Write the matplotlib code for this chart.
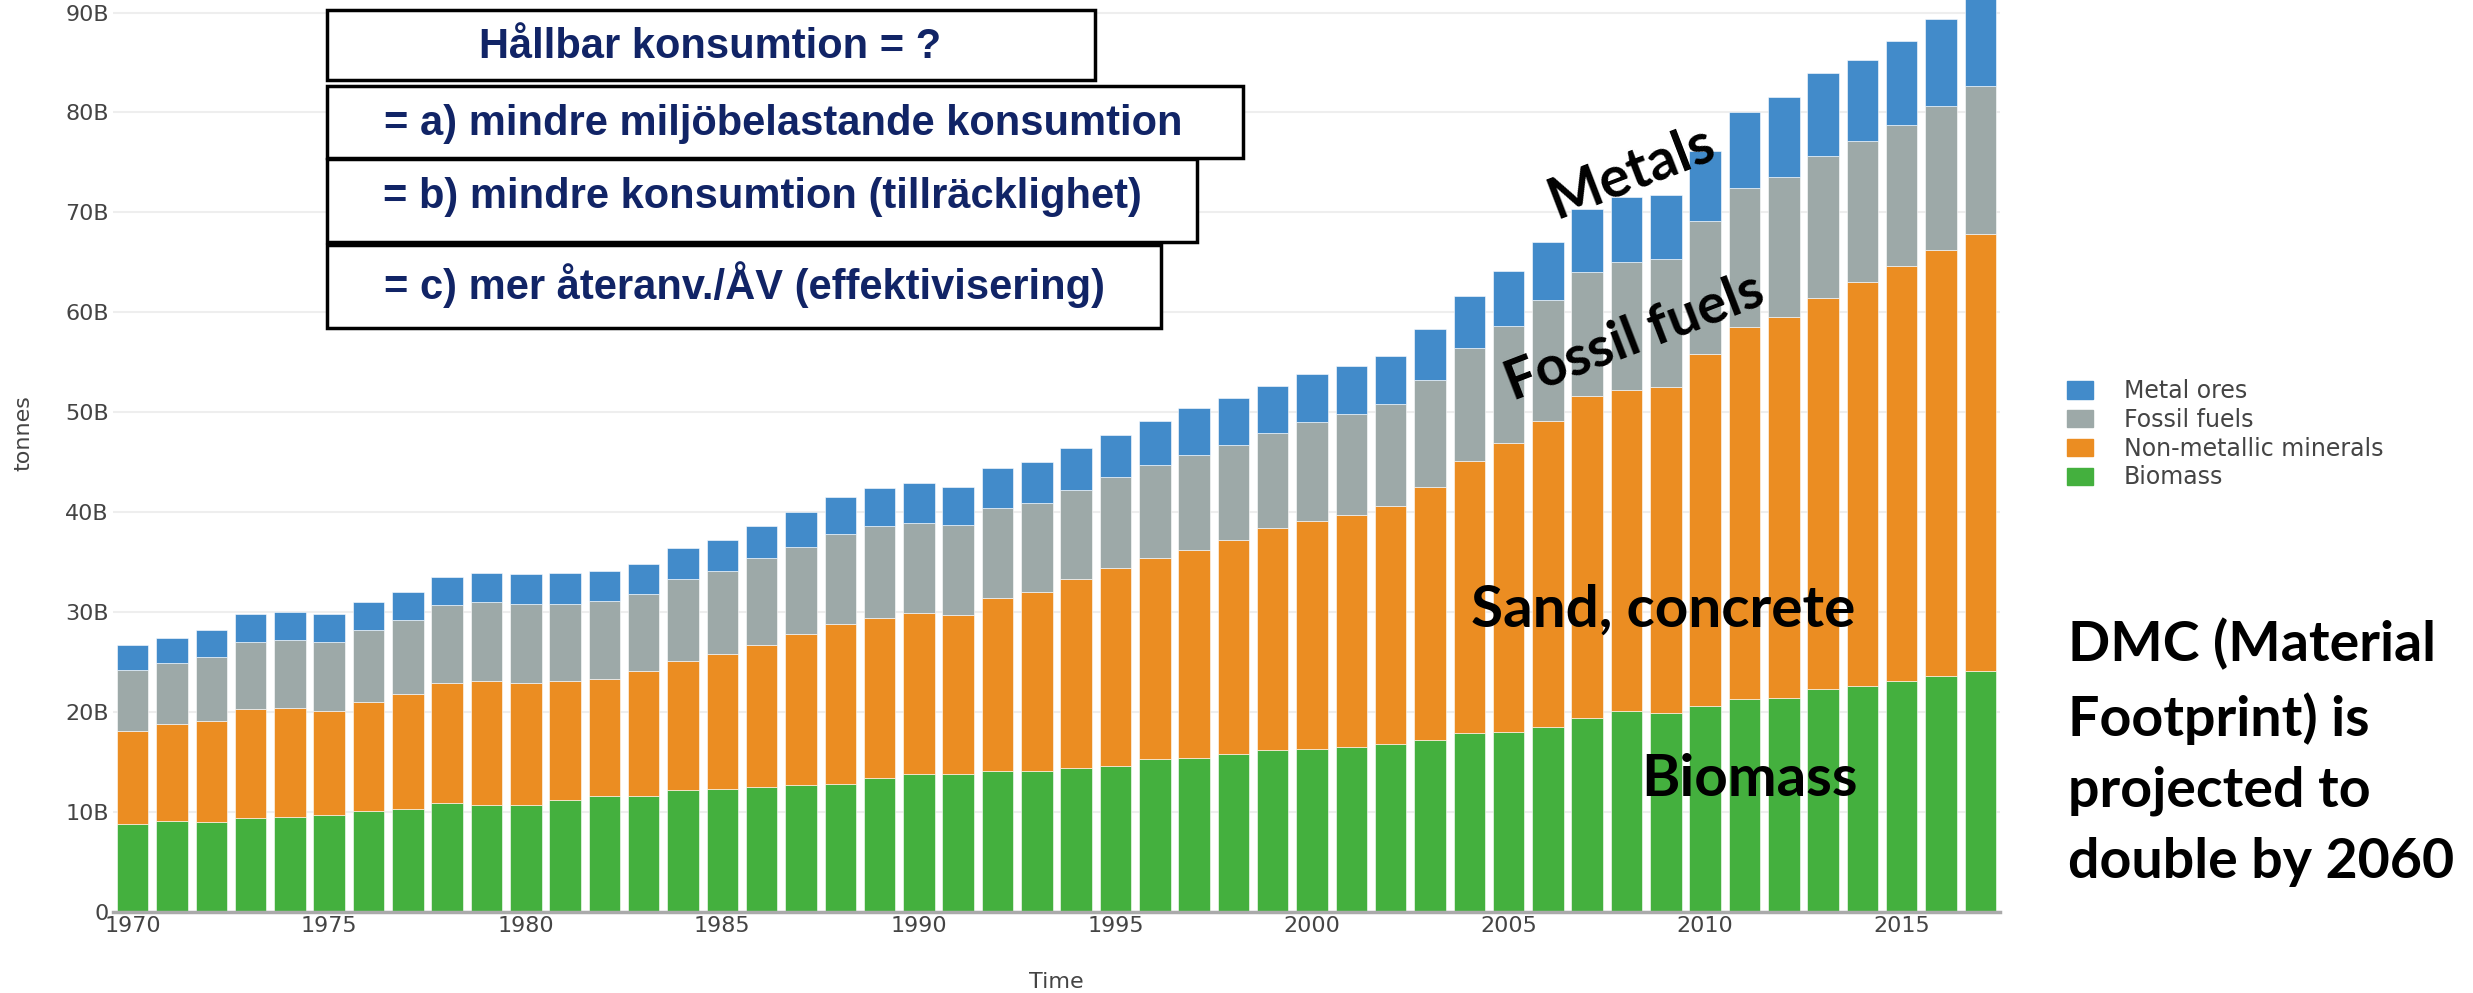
import numpy as np
import matplotlib.pyplot as plt
from matplotlib.patches import Rectangle, Patch

# material footprint by type, billion tonnes
years = list(range(1970, 2018))
biomass = [8.8, 9.1, 8.95, 9.4, 9.5, 9.7, 10.1, 10.3, 10.85, 10.7,
           10.7, 11.15, 11.6, 11.6, 12.15, 12.3, 12.45, 12.65, 12.75, 13.35,
           13.8, 13.8, 14.05, 14.05, 14.4, 14.6, 15.25, 15.4, 15.8, 16.2,
           16.25, 16.45, 16.75, 17.2, 17.9, 18.0, 18.5, 19.35, 20.1, 19.9,
           20.55, 21.25, 21.4, 22.25, 22.55, 23.05, 23.6, 24.1]
non_metallic = [9.25, 9.65, 10.15, 10.85, 10.85, 10.4, 10.85, 11.45, 12.0, 12.35,
                12.15, 11.9, 11.7, 12.45, 12.95, 13.5, 14.25, 15.1, 16.0, 16.0,
                16.05, 15.85, 17.3, 17.9, 18.85, 19.75, 20.1, 20.8, 21.4, 22.2,
                22.85, 23.25, 23.85, 25.3, 27.2, 28.9, 30.6, 32.25, 32.1, 32.6,
                35.3, 37.3, 38.1, 39.15, 40.45, 41.55, 42.6, 43.7]
fossil = [6.15, 6.15, 6.4, 6.7, 6.8, 6.85, 7.2, 7.45, 7.8, 7.9,
          7.95, 7.75, 7.8, 7.75, 8.2, 8.25, 8.65, 8.75, 9.1, 9.25,
          9.1, 9.05, 9.05, 8.95, 8.95, 9.15, 9.35, 9.5, 9.55, 9.55,
          9.9, 10.1, 10.25, 10.7, 11.3, 11.7, 12.15, 12.4, 12.8, 12.8,
          13.25, 13.9, 14.0, 14.25, 14.15, 14.15, 14.45, 14.9]
metal = [2.5, 2.5, 2.7, 2.85, 2.8, 2.85, 2.85, 2.8, 2.8, 2.95,
         2.95, 3.1, 2.95, 2.95, 3.05, 3.2, 3.25, 3.5, 3.65, 3.8,
         3.95, 3.8, 4.0, 4.1, 4.25, 4.25, 4.4, 4.7, 4.65, 4.65,
         4.8, 4.85, 4.8, 5.1, 5.25, 5.55, 5.8, 6.3, 6.55, 6.45,
         7.0, 7.55, 8.0, 8.35, 8.15, 8.45, 8.75, 9.8]

series = [('Biomass', biomass, '#44b03e'),
          ('Non-metallic minerals', non_metallic, '#eb8d22'),
          ('Fossil fuels', fossil, '#9da9a8'),
          ('Metal ores', metal, '#428bca')]

W, H = 2473, 993
fig = plt.figure(figsize=(W / 100, H / 100), dpi=100)
ax = fig.add_axes([113 / W, 1 - 911.6 / H, (2000 - 113) / W, 911.6 / H])

bottom = np.zeros(len(years))
for name, vals, col in series:
    ax.bar(years, vals, width=0.8, bottom=bottom, color=col,
           edgecolor='white', linewidth=0.4, zorder=2)
    bottom = bottom + np.array(vals)

ax.set_xlim(1969.5, 2017.5)
ax.set_ylim(0, 91.26)
ax.set_yticks(range(0, 100, 10))
ax.set_yticklabels(['0'] + ['%dB' % v for v in range(10, 100, 10)])
ax.set_xticks(range(1970, 2020, 5))
ax.tick_params(length=0, labelsize=16, labelcolor='#444444', pad=3)
ax.yaxis.grid(True, color='#eeeeee', linewidth=1.5, zorder=0)
ax.set_axisbelow(True)
for s in ['top', 'right', 'left']:
    ax.spines[s].set_visible(False)
ax.spines['bottom'].set_color('#aaaaaa')
ax.spines['bottom'].set_linewidth(2.5)
ax.spines['bottom'].set_zorder(3)

fig.text(23 / W, 1 - 433 / H, 'tonnes', rotation=90, fontsize=16,
         color='#444444', ha='center', va='center')
fig.text(1056 / W, 1 - 982 / H, 'Time', fontsize=16, color='#444444',
         ha='center', va='center')

# legend (top trace first, like the source)
handles = [Patch(color=c, label=n) for n, v, c in series[::-1]]
fig.legend(handles=handles, loc='upper left',
           bbox_to_anchor=(2046 / W, 1 - 358 / H), frameon=False,
           fontsize=17, labelcolor='#444444', handlelength=1.1,
           handleheight=0.75, handletextpad=1.3, labelspacing=0.2)

# question boxes
navy = '#112466'
boxes = [((327, 10, 1095, 80), 'Hållbar konsumtion = ?', 710, 47),
         ((327, 86, 1243, 158), '= a) mindre miljöbelastande konsumtion', 783, 124),
         ((327, 159, 1197, 242), '= b) mindre konsumtion (tillräcklighet)', 762, 197),
         ((327, 245, 1161, 328), '= c) mer återanv./ÅV (effektivisering)', 744, 285)]
for (x0, y0, x1, y1), txt, tx, ty in boxes:
    fig.add_artist(Rectangle((x0 / W, 1 - y1 / H), (x1 - x0) / W, (y1 - y0) / H,
                             transform=fig.transFigure, facecolor='white',
                             edgecolor='black', linewidth=2.5, zorder=5))
    fig.text(tx / W, 1 - ty / H, txt, fontsize=30, fontweight='bold',
             family='Liberation Sans', color=navy, ha='center', va='center',
             zorder=6)

# labels on the bars
lab = dict(family='Lato', fontweight='bold', color='black',
           ha='center', va='center')
fig.text(1632 / W, 1 - 172 / H, 'Metals', fontsize=41, rotation=21, **lab)
fig.text(1635 / W, 1 - 337 / H, 'Fossil fuels', fontsize=40, rotation=21, **lab)
fig.text(1663 / W, 1 - 610 / H, 'Sand, concrete', fontsize=42, **lab)
fig.text(1750 / W, 1 - 779 / H, 'Biomass', fontsize=42, **lab)

fig.text(2068 / W, 1 - 618 / H,
         'DMC (Material\nFootprint) is\nprojected to\ndouble by 2060',
         fontsize=40, family='Lato', fontweight='bold', color='black',
         ha='left', va='top', linespacing=1.5)

fig.savefig('out.png', dpi=100)
plt.close(fig)
